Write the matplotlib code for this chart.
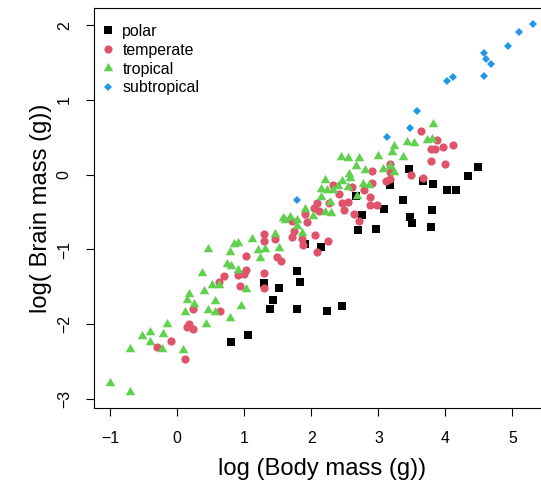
import matplotlib.pyplot as plt
from matplotlib.lines import Line2D

plt.rcParams['font.family'] = ['Liberation Sans', 'DejaVu Sans']

# log body mass / log brain mass, by climate group
polar_x = [3.45, 4.48, 4.33, 3.66, 3.81, 4.03, 4.16, 3.17, 2.66, 3.36, 3.08,
           3.80, 2.75, 3.47, 3.50, 2.97, 2.70, 3.78, 1.91, 2.15, 1.78, 1.83,
           1.30, 1.51, 1.43, 1.38, 1.78, 2.24, 2.45, 1.05, 0.80]
polar_y = [0.07, 0.11, -0.02, -0.09, -0.13, -0.20, -0.21, -0.14, -0.29, -0.34,
           -0.46, -0.47, -0.54, -0.57, -0.64, -0.72, -0.74, -0.70, -0.92,
           -0.96, -1.29, -1.43, -1.45, -1.52, -1.68, -1.80, -1.79, -1.82,
           -1.76, -2.15, -2.24]

temperate_x = [0.11, -0.30, -0.10, 0.15, 0.17, 0.23, 0.23, 0.63, 0.62, 0.70,
               0.91, 1.00, 1.02, 0.93, 1.02, 1.29, 1.30, 1.30, 1.30, 1.46,
               1.48, 1.54, 1.71, 1.74, 1.71, 1.86, 1.87, 1.91, 1.93, 2.05,
               2.08, 2.08, 2.04, 2.11, 2.25, 2.27, 2.33, 2.41, 2.46, 2.48,
               2.55, 2.61, 2.63, 2.71, 2.78, 2.88, 2.87, 2.98, 2.90, 2.91,
               3.11, 3.18, 3.18, 3.18, 3.48, 3.67, 3.63, 3.88, 3.79, 3.85,
               3.97, 4.12, 3.79, 4.00]
temperate_y = [-2.47, -2.31, -2.22, -2.04, -2.00, -2.06, -1.79, -1.82, -1.43,
               -1.36, -1.34, -1.33, -1.27, -1.49, -1.09, -1.31, -1.52, -0.79,
               -0.89, -0.86, -1.10, -1.15, -0.83, -0.75, -0.62, -0.86, -0.94,
               -0.53, -0.63, -0.81, -1.04, -0.38, -0.45, -0.48, -0.89, -0.38,
               -0.14, -0.26, -0.38, -0.47, -0.36, -0.17, -0.52, -0.62, -0.20,
               -0.30, -0.40, -0.40, 0.05, -0.11, -0.09, -0.06, 0.04, 0.15,
               -0.01, -0.04, 0.58, 0.47, 0.35, 0.35, 0.37, 0.40, 0.18, 0.15]

tropical_x = [-1.01, -0.70, -0.70, -0.53, -0.40, -0.40, -0.22, -0.23, -0.16,
              0.08, 0.11, 0.14, 0.18, 0.25, 0.40, 0.37, 0.43, 0.46, 0.46,
              0.52, 0.56, 0.56, 0.62, 0.74, 0.80, 0.78, 0.79, 0.84, 0.91,
              0.91, 0.95, 1.03, 1.11, 1.20, 1.23, 1.31, 1.46, 1.51, 1.57,
              1.61, 1.68, 1.78, 1.79, 1.86, 1.91, 2.02, 2.14, 2.15, 2.20,
              2.23, 2.20, 2.28, 2.30, 2.33, 2.40, 2.46, 2.55, 2.44, 2.54,
              2.71, 2.56, 2.58, 2.66, 2.68, 2.77, 2.86, 2.80, 2.99, 3.07,
              3.18, 3.24, 3.21, 3.23, 3.36, 3.42, 3.53, 3.72, 3.80, 3.82]
tropical_y = [-2.78, -2.90, -2.33, -2.16, -2.10, -2.24, -2.13, -2.33, -1.99,
              -2.35, -1.84, -1.67, -1.59, -1.73, -1.56, -1.31, -1.99, -1.81,
              -0.99, -1.47, -1.69, -1.83, -1.48, -1.20, -1.22, -1.91, -1.03,
              -0.92, -0.91, -1.28, -1.76, -1.53, -0.86, -1.01, -1.11, -0.99,
              -0.79, -0.98, -0.58, -0.60, -0.56, -0.61, -0.68, -0.78, -0.46,
              -0.55, -0.30, -0.19, -0.07, -0.20, -0.50, -0.36, -0.51, -0.21,
              -0.15, -0.09, -0.16, 0.24, 0.22, 0.23, 0.01, -0.04, 0.12, -0.28,
              -0.13, -0.14, 0.06, 0.25, 0.08, 0.12, 0.03, 0.30, 0.38, 0.24,
              0.44, 0.42, 0.47, 0.48, 0.68]

subtropical_x = [3.13, 3.47, 3.58, 4.02, 4.11, 4.57, 4.60, 4.68, 4.57, 4.93,
                 5.10, 5.31, 1.78]
subtropical_y = [0.50, 0.63, 0.85, 1.25, 1.31, 1.63, 1.55, 1.48, 1.32, 1.72,
                 1.91, 2.02, -0.34]

groups = ['polar', 'temperate', 'tropical', 'subtropical']
colors = ['black', '#DF536B', '#61D04F', '#2297E6']

# R style triangle (pch 17): equilateral, not as tall as matplotlib '^'
tri = [(-1, -0.577), (1, -0.577), (0, 1.155)]
markers = ['s', 'o', tri, 'D']
sizes = [6.3, 5.9, 8.0, 3.7]

fig = plt.figure(figsize=(5.41, 4.88), dpi=100)
ax = fig.add_axes([93.5 / 541, 80 / 488, 456.5 / 541, 400 / 488])

data = [(polar_x, polar_y), (temperate_x, temperate_y),
        (tropical_x, tropical_y), (subtropical_x, subtropical_y)]
handles = []
for (xs, ys), name, col, mk, ms in zip(data, groups, colors, markers, sizes):
    ax.plot(xs, ys, linestyle='none', marker=mk, color=col, markersize=ms,
            markeredgewidth=0)
    handles.append(Line2D([], [], linestyle='none', marker=mk, color=col,
                          markersize=ms, markeredgewidth=0, label=name))

ax.set_xlim(-1.25, 5.56)
ax.set_ylim(-3.12, 2.23)
ax.set_xticks(range(-1, 6))
ax.set_yticks(range(-3, 3))

for sp in ax.spines.values():
    sp.set_linewidth(0.8)
ax.tick_params(axis='both', length=5.8, width=0.8, labelsize=11.4)
ax.tick_params(axis='x', pad=11)
ax.tick_params(axis='y', pad=9.8, labelrotation=90)
for lab in ax.get_yticklabels():
    lab.set_verticalalignment('center')

ax.set_xlabel('log (Body mass (g))', fontsize=17.1, labelpad=8.7)
ax.set_ylabel('log( Brain mass (g))', fontsize=17.1, labelpad=3.5)

ax.legend(handles=handles, loc='upper left', bbox_to_anchor=(0.0186, 0.961),
          frameon=False, fontsize=11.4, borderpad=0, borderaxespad=0,
          handlelength=0.8, handletextpad=0.48, labelspacing=0.25)

fig.savefig('out.png', dpi=100)
